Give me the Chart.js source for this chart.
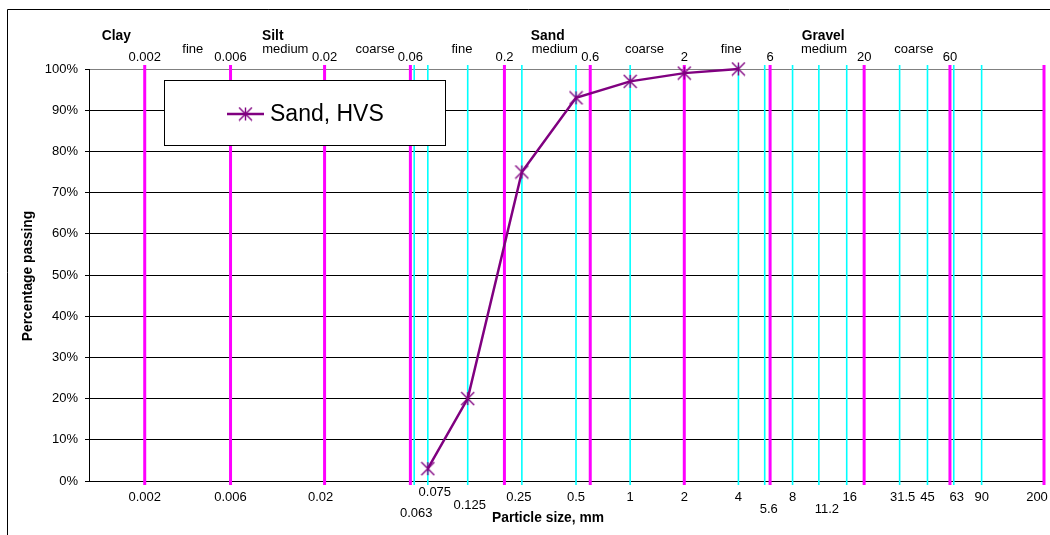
<!DOCTYPE html>
<html>
<head>
<meta charset="utf-8">
<title>Grading curve</title>
<script src="https://cdn.jsdelivr.net/npm/chart.js@4.4.1/dist/chart.umd.min.js"></script>
<style>
  html, body { margin: 0; padding: 0; background: #fff; }
  #wrap { position: relative; width: 1050px; height: 535px; }
</style>
</head>
<body>
<div id="wrap"><canvas id="grading" width="1050" height="535"></canvas></div>
<script>
/* ---- Data ---- */
var seriesName = 'Sand, HVS';
var sieveSizes = [0.075, 0.125, 0.25, 0.5, 1, 2, 4];
var passing = [3, 20, 75, 93, 97, 99, 100];

/* fraction boundaries (magenta) and sieve sizes (cyan) */
var boundaries = [0.002, 0.006, 0.02, 0.06, 0.2, 0.6, 2, 6, 20, 60, 200];
var sieveLines = [0.063, 0.075, 0.125, 0.25, 0.5, 1, 4, 5.6, 8, 11.2, 16, 31.5, 45, 63, 90];

/* bottom axis labels */
var xTickValues = [0.002, 0.006, 0.02, 0.063, 0.075, 0.125, 0.25, 0.5, 1, 2, 4, 5.6, 8, 11.2, 16, 31.5, 45, 63, 90, 200];
var xTickLabels = ['0.002', '0.006', '0.02', '0.063', '0.075', '0.125', '0.25', '0.5', '1', '2', '4', '5.6', '8', '11.2', '16', '31.5', '45', '63', '90', '200'];

/* soil fraction names above the plot */
var fractionNames = ['Clay', 'Silt', 'Sand', 'Gravel'];
var fractionAt = [0.00139, 0.0103, 0.348, 11.83];
var gradeNames = ['fine', 'medium', 'coarse', 'fine', 'medium', 'coarse', 'fine', 'medium', 'coarse'];
var gradeAt = [0.0037, 0.0121, 0.0382, 0.116, 0.381, 1.2, 3.65, 11.97, 37.8];
var boundaryLabels = ['0.002', '0.006', '0.02', '0.06', '0.2', '0.6', '2', '6', '20', '60'];

var yTicks = [0, 10, 20, 30, 40, 50, 60, 70, 80, 90, 100];

/* ---- Styling ---- */
var FONT = "'Liberation Sans', Arial, sans-serif";
var PURPLE = '#800080';
var MAGENTA = '#ff00ff';
var CYAN = '#00ffff';

/* per-label nudges [dx, dy] for the staggered bottom labels */
var tickNudge = {
  '0.02': [-4, 0], '0.063': [2, 16], '0.075': [7, -5], '0.125': [2, 8],
  '0.25': [-3, 0], '5.6': [4, 12], '11.2': [8, 12], '16': [3, 0],
  '31.5': [3, 0], '63': [3, 0], '200': [-7, 0]
};

/* Excel-style star marker: X plus a vertical stroke */
function starMarker(size, color) {
  var c = document.createElement('canvas');
  c.width = size; c.height = size;
  var g = c.getContext('2d');
  var m = size / 2, r = size / 2 - 1;
  g.strokeStyle = color;
  g.lineWidth = 1.4;
  g.beginPath();
  g.moveTo(m - r, m - r); g.lineTo(m + r, m + r);
  g.moveTo(m + r, m - r); g.lineTo(m - r, m + r);
  g.moveTo(m, m - r); g.lineTo(m, m + r);
  g.stroke();
  return c;
}
var marker = starMarker(15, PURPLE);

/* vertical size lines, drawn under the series */
var sizeLinesPlugin = {
  id: 'sizeLines',
  beforeDatasetsDraw: function (chart) {
    var c = chart.ctx, xs = chart.scales.x, a = chart.chartArea;
    c.save();
    function vline(v, color, w) {
      var px = xs.getPixelForValue(v);
      c.strokeStyle = color;
      c.lineWidth = w;
      c.beginPath();
      c.moveTo(px, a.top - 4);
      c.lineTo(px, a.bottom + 4);
      c.stroke();
    }
    sieveLines.forEach(function (v) { vline(v, CYAN, 1.6); });
    boundaries.forEach(function (v) { vline(v, MAGENTA, 3); });
    c.restore();
  }
};

/* text labels, titles, legend box and outer frame */
var annotationsPlugin = {
  id: 'annotations',
  afterDraw: function (chart) {
    var c = chart.ctx, xs = chart.scales.x;
    c.save();
    c.fillStyle = '#000';
    c.textAlign = 'center';
    c.textBaseline = 'alphabetic';

    // bottom size labels
    c.font = '13px ' + FONT;
    xTickValues.forEach(function (v, i) {
      var lbl = xTickLabels[i];
      var n = tickNudge[lbl] || [0, 0];
      c.fillText(lbl, xs.getPixelForValue(v) + n[0], 501 + n[1]);
    });

    // boundary labels and grade names above the plot
    boundaries.slice(0, boundaryLabels.length).forEach(function (v, i) {
      c.fillText(boundaryLabels[i], xs.getPixelForValue(v), 60.5);
    });
    gradeNames.forEach(function (t, i) {
      c.fillText(t, xs.getPixelForValue(gradeAt[i]), 52.5);
    });
    c.font = 'bold 13.8px ' + FONT;
    fractionNames.forEach(function (t, i) {
      c.fillText(t, xs.getPixelForValue(fractionAt[i]), 40);
    });

    // axis titles
    c.fillText('Particle size, mm', 548, 522);
    c.save();
    c.translate(32, 276);
    c.rotate(-Math.PI / 2);
    c.fillText('Percentage passing', 0, 0);
    c.restore();

    // legend
    c.fillStyle = '#fff';
    c.fillRect(164.5, 80.5, 281, 65);
    c.strokeStyle = '#000';
    c.lineWidth = 1;
    c.strokeRect(164.5, 80.5, 281, 65);
    c.strokeStyle = PURPLE;
    c.lineWidth = 2.5;
    c.beginPath();
    c.moveTo(227, 114);
    c.lineTo(264, 114);
    c.stroke();
    c.drawImage(marker, 245.5 - marker.width / 2, 114 - marker.height / 2);
    c.fillStyle = '#000';
    c.textAlign = 'left';
    c.font = '23px ' + FONT;
    c.fillText(seriesName, 270, 121);

    // chart frame
    c.strokeStyle = '#000';
    c.lineWidth = 1;
    c.beginPath();
    c.moveTo(7.5, 535);
    c.lineTo(7.5, 9.5);
    c.lineTo(1050, 9.5);
    c.stroke();
    c.restore();
  }
};

new Chart(document.getElementById('grading'), {
  type: 'line',
  data: {
    datasets: [{
      label: seriesName,
      data: sieveSizes.map(function (s, i) { return { x: s, y: passing[i] }; }),
      borderColor: PURPLE,
      backgroundColor: PURPLE,
      borderWidth: 2.5,
      pointStyle: marker,
      pointRadius: 7,
      tension: 0,
      fill: false,
      clip: false
    }]
  },
  options: {
    responsive: false,
    animation: false,
    events: [],
    layout: { autoPadding: false, padding: { top: 69, right: 6, bottom: 54, left: 0 } },
    plugins: {
      legend: { display: false },
      tooltip: { enabled: false }
    },
    scales: {
      x: {
        type: 'logarithmic',
        min: 0.00098,
        max: 200,
        ticks: { display: false },
        grid: { display: false },
        border: { color: '#000', width: 1 },
        afterFit: function (s) { s.height = 0; }
      },
      y: {
        min: 0,
        max: 100,
        afterBuildTicks: function (s) { s.ticks = yTicks.map(function (v) { return { value: v }; }); },
        ticks: {
          callback: function (v) { return v + '%'; },
          color: '#000',
          font: { family: FONT, size: 13 },
          padding: 7
        },
        grid: {
          color: function (ctx) { return ctx.tick && ctx.tick.value === 100 ? '#808080' : '#000'; },
          tickColor: '#000',
          tickLength: 4
        },
        border: { color: '#000', width: 1 },
        afterFit: function (s) { s.width = 89; }
      }
    }
  },
  plugins: [sizeLinesPlugin, annotationsPlugin]
});
</script>
</body>
</html>
